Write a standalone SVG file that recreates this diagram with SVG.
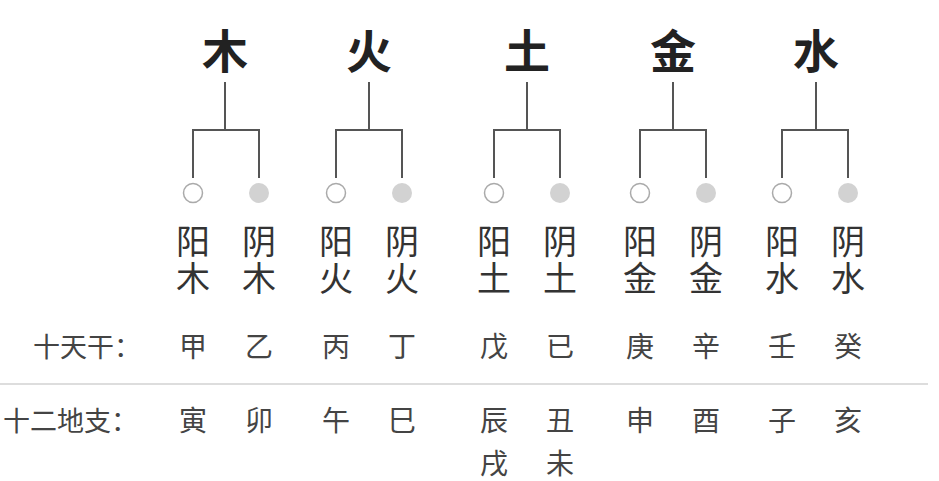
<svg xmlns="http://www.w3.org/2000/svg" width="939" height="481" viewBox="0 0 939 481">
<style>
text{font-family:"Noto Sans CJK SC","Noto Sans CJK TC",sans-serif;text-anchor:middle}
.t{font-size:46px;font-weight:bold;fill:#222}
.l{font-size:34px;fill:#333}
.r{font-size:28px;fill:#444}
.h{font-size:27px;fill:#444;text-anchor:start}
.c{fill:none;stroke:#555;stroke-width:2}
.o{fill:#fff;stroke:#aaa;stroke-width:1.5}
.f{fill:#d2d2d2}
</style>
<rect width="939" height="481" fill="#fff"/>
<g id="connectors">
<path class="c" d="M225 82V130M193 178V130H259V178"/>
<path class="c" d="M369 82V130M336 178V130H402V178"/>
<path class="c" d="M527 82V130M494 178V130H560V178"/>
<path class="c" d="M673 82V130M640 178V130H706V178"/>
<path class="c" d="M816 82V130M782 178V130H848V178"/>
</g>
<g id="wood">
<text class="t" x="225" y="68">木</text>
<circle class="o" cx="193" cy="193" r="9.5"/><circle class="f" cx="259" cy="193" r="10"/>
<text class="l" x="193" y="254">阳<tspan x="193" dy="37">木</tspan></text>
<text class="l" x="259" y="254">阴<tspan x="259" dy="37">木</tspan></text>
</g>
<g id="fire">
<text class="t" x="369" y="68">火</text>
<circle class="o" cx="336" cy="193" r="9.5"/><circle class="f" cx="402" cy="193" r="10"/>
<text class="l" x="336" y="254">阳<tspan x="336" dy="37">火</tspan></text>
<text class="l" x="402" y="254">阴<tspan x="402" dy="37">火</tspan></text>
</g>
<g id="earth">
<text class="t" x="527" y="68">土</text>
<circle class="o" cx="494" cy="193" r="9.5"/><circle class="f" cx="560" cy="193" r="10"/>
<text class="l" x="494" y="254">阳<tspan x="494" dy="37">土</tspan></text>
<text class="l" x="560" y="254">阴<tspan x="560" dy="37">土</tspan></text>
</g>
<g id="metal">
<text class="t" x="673" y="68">金</text>
<circle class="o" cx="640" cy="193" r="9.5"/><circle class="f" cx="706" cy="193" r="10"/>
<text class="l" x="640" y="254">阳<tspan x="640" dy="37">金</tspan></text>
<text class="l" x="706" y="254">阴<tspan x="706" dy="37">金</tspan></text>
</g>
<g id="water">
<text class="t" x="816" y="68">水</text>
<circle class="o" cx="782" cy="193" r="9.5"/><circle class="f" cx="848" cy="193" r="10"/>
<text class="l" x="782" y="254">阳<tspan x="782" dy="37">水</tspan></text>
<text class="l" x="848" y="254">阴<tspan x="848" dy="37">水</tspan></text>
</g>
<g id="stems">
<text class="h" x="33" y="357">十天干：</text>
<text class="r" x="193" y="357">甲</text><text class="r" x="259" y="357">乙</text>
<text class="r" x="336" y="357">丙</text><text class="r" x="402" y="357">丁</text>
<text class="r" x="494" y="357">戊</text><text class="r" x="560" y="357">已</text>
<text class="r" x="640" y="357">庚</text><text class="r" x="706" y="357">辛</text>
<text class="r" x="782" y="357">壬</text><text class="r" x="848" y="357">癸</text>
</g>
<line x1="0" y1="384" x2="928" y2="384" stroke="#ddd" stroke-width="2"/>
<g id="branches">
<text class="h" x="3" y="431">十二地支：</text>
<text class="r" x="193" y="431">寅</text><text class="r" x="259" y="431">卯</text>
<text class="r" x="336" y="431">午</text><text class="r" x="402" y="431">巳</text>
<text class="r" x="494" y="431">辰<tspan x="494" dy="43">戌</tspan></text>
<text class="r" x="560" y="431">丑<tspan x="560" dy="43">未</tspan></text>
<text class="r" x="640" y="431">申</text><text class="r" x="706" y="431">酉</text>
<text class="r" x="782" y="431">子</text><text class="r" x="848" y="431">亥</text>
</g>
</svg>
